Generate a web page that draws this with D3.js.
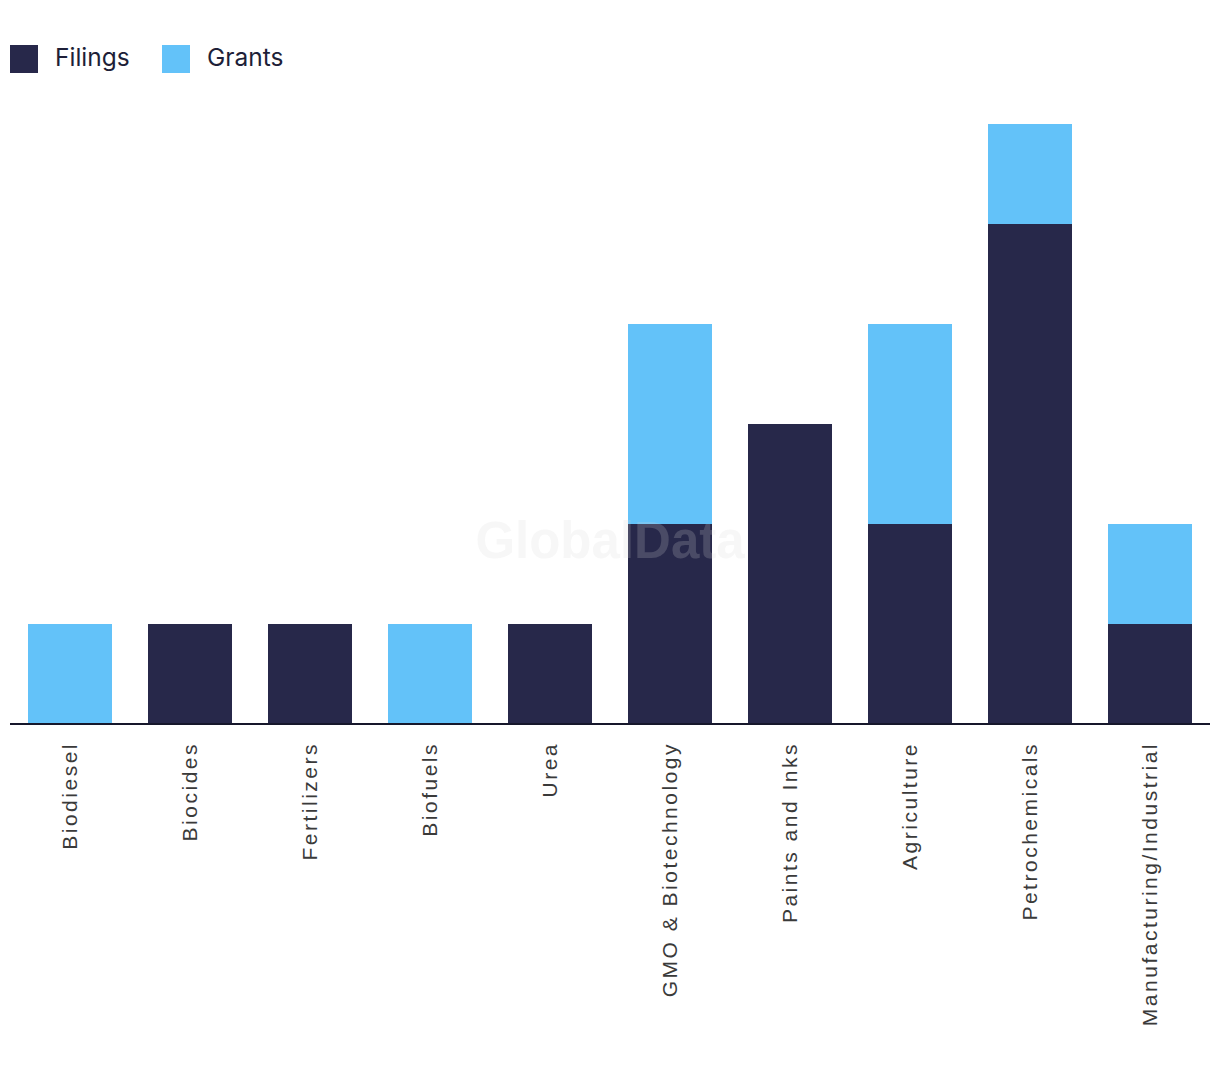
<!DOCTYPE html>
<html><head><meta charset="utf-8">
<script src="https://cdn.jsdelivr.net/npm/d3@7"></script>
<style>body{margin:0;background:#fff}</style>
</head><body>
<svg id="c" width="1220" height="1084"></svg>
<script>
const categories = ["Biodiesel","Biocides","Fertilizers","Biofuels","Urea","GMO & Biotechnology","Paints and Inks","Agriculture","Petrochemicals","Manufacturing/Industrial"];
const filings = [0,1,1,0,1,2,3,2,5,1];
const grants  = [1,0,0,1,0,2,0,2,1,1];
const seriesNames = ["Filings","Grants"];
const colors = ["#27284a","#63c2f9"];

const svg = d3.select("#c");
const x = d3.scaleBand().domain(categories).range([10,1210]).paddingInner(0.3).paddingOuter(0.15);
const y = d3.scaleLinear().domain([0,6]).range([724,124]);

const data = categories.map((c,i)=>({cat:c, Filings:filings[i], Grants:grants[i]}));
const stacked = d3.stack().keys(seriesNames)(data);

svg.append("g").selectAll("g").data(stacked).join("g")
  .attr("fill",(d,i)=>colors[i])
  .selectAll("rect").data(d=>d).join("rect")
  .attr("x",d=>x(d.data.cat))
  .attr("width",x.bandwidth())
  .attr("y",d=>y(d[1]))
  .attr("height",d=>y(d[0])-y(d[1]));

// axis
const ax = svg.append("g").attr("transform","translate(0,724)").call(d3.axisBottom(x).tickSize(0).tickPadding(0));
ax.select(".domain").attr("stroke","#16172b").attr("stroke-width",2).attr("d","M10,0H1210");
ax.selectAll(".tick text")
  .attr("transform","rotate(-90)")
  .attr("text-anchor","end")
  .attr("dy","0.35em")
  .attr("x",-18).attr("y",0)
  .attr("font-family","'Liberation Sans', Arial, sans-serif")
  .attr("font-size",21)
  .attr("letter-spacing","2.5px")
  .attr("fill","#3a3a3a");

// legend
const lg = svg.append("g");
const lx = [10,162];
seriesNames.forEach((s,i)=>{
  lg.append("rect").attr("x",lx[i]).attr("y",45).attr("width",28).attr("height",28).attr("fill",colors[i]);
  lg.append("text").attr("x",lx[i]+45).attr("y",66).text(s)
    .attr("font-family","Inter, 'Noto Sans', sans-serif").attr("font-size",24.5).attr("fill","#1e1f38");
});

// watermark
svg.append("text").attr("x",610).attr("y",558).attr("text-anchor","middle")
  .attr("font-family","'Liberation Sans', Arial, sans-serif").attr("font-weight","bold")
  .attr("font-size",51).attr("fill","#d6d6d6").attr("fill-opacity",0.2).text("GlobalData");
</script>
</body></html>
